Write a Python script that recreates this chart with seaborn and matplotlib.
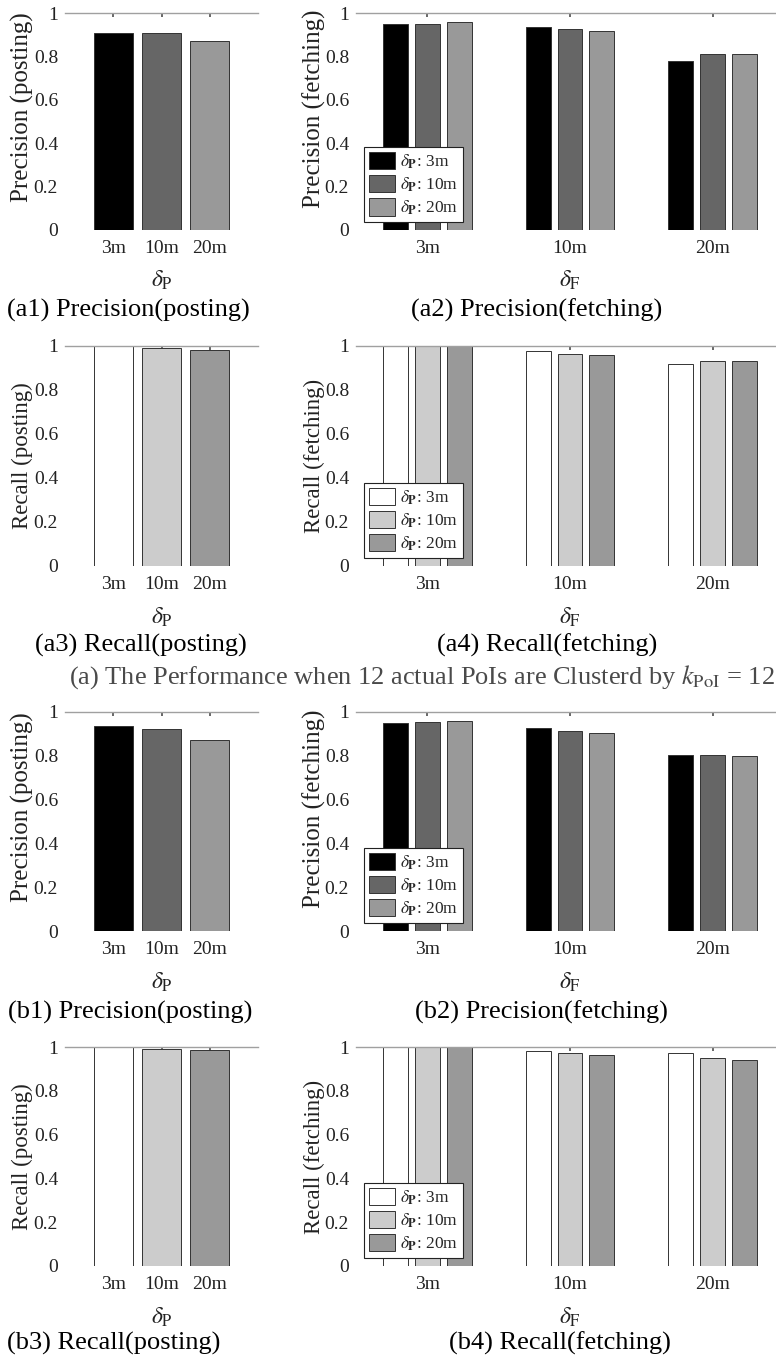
import numpy as np
import pandas as pd
import matplotlib
matplotlib.use("Agg")
import matplotlib.pyplot as plt
import seaborn as sns

# ---------------- data ----------------
deltas = ["3m", "10m", "20m"]

a1_prec_post = [0.91, 0.91, 0.87]
a2_prec_fetch_p3 = [0.948, 0.934, 0.780]
a2_prec_fetch_p10 = [0.951, 0.925, 0.812]
a2_prec_fetch_p20 = [0.958, 0.917, 0.812]
a3_rec_post = [1.0, 0.99, 0.983]
a4_rec_fetch_p3 = [1.0, 0.979, 0.920]
a4_rec_fetch_p10 = [1.0, 0.964, 0.932]
a4_rec_fetch_p20 = [1.0, 0.961, 0.932]

b1_prec_post = [0.936, 0.921, 0.872]
b2_prec_fetch_p3 = [0.948, 0.929, 0.804]
b2_prec_fetch_p10 = [0.953, 0.915, 0.804]
b2_prec_fetch_p20 = [0.958, 0.904, 0.799]
b3_rec_post = [1.0, 0.993, 0.987]
b4_rec_fetch_p3 = [1.0, 0.984, 0.971]
b4_rec_fetch_p10 = [1.0, 0.971, 0.951]
b4_rec_fetch_p20 = [1.0, 0.963, 0.942]

prec_colors = ["#000000", "#666666", "#999999"]
rec_colors = ["#ffffff", "#cccccc", "#999999"]

legend_labels = [r"$\delta_{\mathbf{P}}$: 3m", r"$\delta_{\mathbf{P}}$: 10m", r"$\delta_{\mathbf{P}}$: 20m"]
yticks = [0, 0.2, 0.4, 0.6, 0.8, 1.0]
yticklabels = ["0", "0.2", "0.4", "0.6", "0.8", "1"]

# ---------------- style ----------------
sns.set_theme(style="white")
plt.rcParams["font.family"] = ["Liberation Serif", "DejaVu Serif"]
plt.rcParams["mathtext.fontset"] = "stix"

W, H = 776, 1362
fig = plt.figure(figsize=(W / 100, H / 100), dpi=100)

LEFT = (65, 258)
RIGHT = (356, 784)
ROWS = [(13, 230), (346, 566), (712, 931), (1047, 1266)]


def make_ax(col, row):
    x0, x1 = col
    t, b = ROWS[row]
    return fig.add_axes([x0 / W, 1 - b / H, (x1 - x0) / W, (b - t) / H])


def style_ax(ax, ylabel, ysize, ylab_y, xlabel, label_x):
    ax.set_ylim(0, 1)
    ax.set_yticks(yticks)
    ax.set_yticklabels(yticklabels)
    for s in ["left", "right", "bottom"]:
        ax.spines[s].set_visible(False)
    ax.spines["top"].set_visible(True)
    ax.spines["top"].set_color("#a0a0a0")
    ax.spines["top"].set_linewidth(1.0)
    ax.tick_params(axis="y", length=0, pad=5, labelsize=14, labelcolor="#222222")
    ax.tick_params(axis="x", top=True, bottom=False, labeltop=False, labelbottom=True,
                   direction="in", length=3, color="#555555", pad=7, labelsize=14,
                   labelcolor="#222222")
    ax.set_ylabel(ylabel, fontsize=ysize, color="#222222")
    ax.yaxis.set_label_coords(label_x, ylab_y)
    ax.yaxis.label.set_va("center")
    ax.set_xlabel(xlabel, fontsize=17, color="#222222")
    ax.xaxis.set_label_coords(0.5, -0.18)
    ax.xaxis.label.set_va("top")
    ax.grid(False)


def single_panel(row, values, colors, ylabel, ysize, ylab_y):
    ax = make_ax(LEFT, row)
    df = pd.DataFrame({"delta": deltas, "value": values})
    sns.barplot(data=df, x="delta", y="value", hue="delta", order=deltas, hue_order=deltas,
                palette=colors, width=0.8, legend=False, edgecolor="#333333",
                linewidth=0.7, ax=ax)
    ax.set_xlim(-1, 3)
    style_ax(ax, ylabel, ysize, ylab_y, r"$\delta_{\mathrm{P}}$", (22 - 65) / 193)
    return ax


def group_panel(row, series, colors, ylabel, ysize, ylab_y):
    ax = make_ax(RIGHT, row)
    rows = []
    for lab, vals in zip(legend_labels, series):
        for d, v in zip(deltas, vals):
            rows.append({"deltaF": d, "deltaP": lab, "value": v})
    df = pd.DataFrame(rows)
    sns.barplot(data=df, x="deltaF", y="value", hue="deltaP", order=deltas,
                hue_order=legend_labels, palette=colors, width=0.67, gap=0.22,
                edgecolor="#333333", linewidth=0.7, ax=ax)
    ax.set_xlim(-0.5, 2.5)
    style_ax(ax, ylabel, ysize, ylab_y, r"$\delta_{\mathrm{F}}$", (314 - 356) / 428)
    old = ax.get_legend()
    handles = old.legend_handles
    labels = [t.get_text() for t in old.get_texts()]
    old.remove()
    leg = ax.legend(handles, labels, loc="lower left", bbox_to_anchor=(0.018, 0.035),
                    fontsize=12.5, frameon=True, fancybox=False, framealpha=1,
                    edgecolor="#222222", handlelength=1.5, handleheight=1.15,
                    labelspacing=0.25, borderpad=0.3, handletextpad=0.3,
                    borderaxespad=0)
    leg.get_frame().set_linewidth(0.8)
    return ax


single_panel(0, a1_prec_post, prec_colors, "Precision (posting)", 18, 0.565)
group_panel(0, [a2_prec_fetch_p3, a2_prec_fetch_p10, a2_prec_fetch_p20], prec_colors,
            "Precision (fetching)", 18, 0.56)
single_panel(1, a3_rec_post, rec_colors, "Recall (posting)", 16.5, 0.5)
group_panel(1, [a4_rec_fetch_p3, a4_rec_fetch_p10, a4_rec_fetch_p20], rec_colors,
            "Recall (fetching)", 16.5, 0.5)
single_panel(2, b1_prec_post, prec_colors, "Precision (posting)", 18, 0.565)
group_panel(2, [b2_prec_fetch_p3, b2_prec_fetch_p10, b2_prec_fetch_p20], prec_colors,
            "Precision (fetching)", 18, 0.56)
single_panel(3, b3_rec_post, rec_colors, "Recall (posting)", 16.5, 0.5)
group_panel(3, [b4_rec_fetch_p3, b4_rec_fetch_p10, b4_rec_fetch_p20], rec_colors,
            "Recall (fetching)", 16.5, 0.5)

captions = [
    ("(a1) Precision(posting)", 128, 310, "black"),
    ("(a2) Precision(fetching)", 537, 310, "black"),
    ("(a3) Recall(posting)", 141, 645, "black"),
    ("(a4) Recall(fetching)", 547, 645, "black"),
    (r"(a) The Performance when 12 actual PoIs are Clusterd by $k_{\mathrm{PoI}}$ = 12", 422, 677, "#4a4a4a"),
    ("(b1) Precision(posting)", 130, 1012, "black"),
    ("(b2) Precision(fetching)", 541, 1012, "black"),
    ("(b3) Recall(posting)", 114, 1343, "black"),
    ("(b4) Recall(fetching)", 560, 1343, "black"),
]
for txt, cx, cy, col in captions:
    fig.text(cx / W, 1 - cy / H, txt, ha="center", va="center", fontsize=19, color=col)

fig.savefig("out.png", dpi=100)
